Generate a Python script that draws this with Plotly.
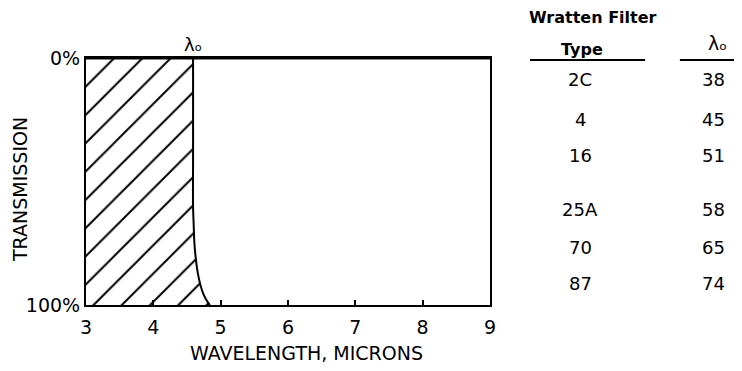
import plotly.graph_objects as go

# Edge curve (wavelength in microns, transmission %)
edge_x = [4.59, 4.59, 4.59, 4.60, 4.61, 4.63, 4.66, 4.70, 4.75, 4.80, 4.84]
edge_y = [0, 40, 60, 68, 75, 81, 87, 92, 96, 98.5, 100]

x_ticks = [3, 4, 5, 6, 7, 8, 9]
y_ticks = [0, 100]
y_ticktext = ["0%", "100%"]

filter_types = ["2C", "4", "16", "25A", "70", "87"]
lambda_o = ["38", "45", "51", "58", "65", "74"]

FONT = "DejaVu Sans"
REG = dict(family=FONT, color="black")
BOLD = dict(family=FONT, color="black", weight="bold")

fig = go.Figure()

# Hatched region: from x=3 to the edge curve
hx = [3] + edge_x + [3]
hy = [0] + edge_y + [100]
fig.add_trace(go.Scatter(
    x=hx, y=hy, mode="lines", fill="toself",
    fillcolor="rgba(0,0,0,0)",
    fillpattern=dict(shape="/", size=20, solidity=0.1, fgcolor="black",
                     fgopacity=1, bgcolor="white"),
    line=dict(width=0), hoverinfo="skip", showlegend=False))

# Edge line
fig.add_trace(go.Scatter(
    x=edge_x, y=edge_y, mode="lines",
    line=dict(color="black", width=2, shape="spline"),
    showlegend=False))

fig.update_xaxes(
    range=[3, 9], tickvals=x_ticks, ticks="inside", ticklen=5, tickwidth=2,
    tickcolor="black", showline=True, linecolor="black", linewidth=2, mirror=True,
    showgrid=False, zeroline=False, ticklabelstandoff=4,
    tickfont=dict(REG, size=19))
fig.update_yaxes(
    range=[100, 0], tickvals=y_ticks, ticktext=y_ticktext, ticks="",
    showline=True, linecolor="black", linewidth=2, mirror=True,
    showgrid=False, zeroline=False,
    tickfont=dict(REG, size=19))

# thicker top border
fig.add_shape(type="line", xref="x", yref="y", x0=3, x1=9, y0=0, y1=0,
              line=dict(color="black", width=3))

def txt(text, x, y, xref="paper", size=15, font=REG, **kw):
    d = dict(text=text, x=x, y=y, xref=xref, yref="paper", showarrow=False,
             xanchor="center", yanchor="middle", font=dict(font, size=size))
    d.update(kw)
    return d

ann = []
ann.append(txt("λₒ", edge_x[0], 1.053, xref="x", size=18))
ann.append(txt("TRANSMISSION", -0.163, 0.466, size=19, textangle=-90))
ann.append(txt("WAVELENGTH, MICRONS", 0.547, -0.194, size=19))

# Table
col1_x, col2_x = 1.223, 1.552
row_y = [0.911, 0.749, 0.607, 0.385, 0.231, 0.089]
ann.append(txt("Wratten Filter", 1.255, 1.162, size=16, font=BOLD))
ann.append(txt("Type", 1.228, 1.036, size=16, font=BOLD))
ann.append(txt("λₒ", 1.562, 1.06, size=19))
for t, v, ry in zip(filter_types, lambda_o, row_y):
    ann.append(txt(t, col1_x, ry, size=18))
    ann.append(txt(v, col2_x, ry, size=18))
fig.add_shape(type="line", xref="paper", yref="paper", x0=1.099, x1=1.384, y0=0.992, y1=0.992,
              line=dict(color="black", width=2))
fig.add_shape(type="line", xref="paper", yref="paper", x0=1.47, x1=1.63, y0=0.992, y1=0.992,
              line=dict(color="black", width=2))

fig.update_layout(
    width=734, height=363,
    margin=dict(l=78, r=252, t=50, b=66),
    paper_bgcolor="white", plot_bgcolor="white",
    annotations=ann, showlegend=False,
    font=dict(family=FONT, color="black"))

fig.write_html("out.html")
